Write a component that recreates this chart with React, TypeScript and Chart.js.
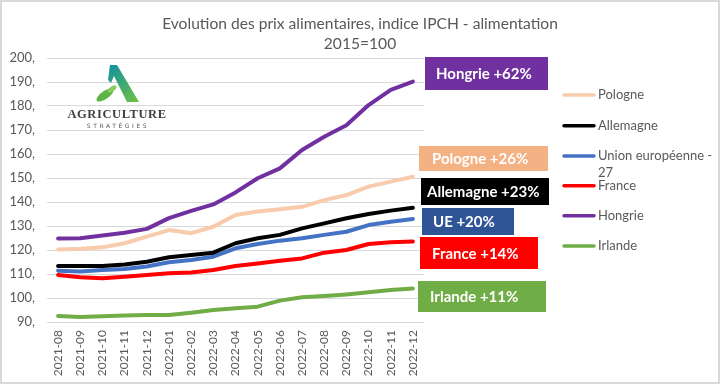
import React, { useEffect, useRef } from 'react';
import Chart from 'chart.js/auto';

const months = ['2021-08','2021-09','2021-10','2021-11','2021-12','2022-01','2022-02','2022-03','2022-04','2022-05','2022-06','2022-07','2022-08','2022-09','2022-10','2022-11','2022-12'];
const pologne = [120.2,120.5,121.1,122.8,125.6,128.3,127.0,129.7,134.6,136.0,137.0,138.0,140.8,142.9,146.4,148.5,150.5];
const allemagne = [113.3,113.3,113.3,114.0,115.1,117.0,117.9,118.9,122.8,124.9,126.3,129.0,131.1,133.2,135.0,136.4,137.6];
const ue = [111.4,111.0,111.7,112.1,113.1,114.9,115.8,117.2,120.7,122.5,123.9,124.9,126.3,127.6,130.4,131.8,132.9];
const france = [109.6,108.6,108.2,108.9,109.6,110.3,110.6,111.7,113.3,114.4,115.5,116.5,118.9,120.0,122.5,123.2,123.5];
const hongrie = [124.8,124.9,126.0,127.2,128.8,133.3,136.3,139.0,144.0,149.9,154.0,161.7,167.2,172.0,180.4,186.7,190.2];
const irlande = [92.5,92.1,92.4,92.7,92.9,92.9,93.9,95.0,95.7,96.4,98.9,100.3,100.8,101.5,102.4,103.3,104.0];

const seriesNames = ['Pologne','Allemagne','Union européenne - 27','France','Hongrie','Irlande'];
const seriesColors = ['#F8CBAD','#000000','#4472C4','#FF0000','#7030A0','#70AD47'];
const seriesData = [pologne, allemagne, ue, france, hongrie, irlande];

const boxLabels = ['Hongrie +62%','Pologne +26%','Allemagne +23%','UE +20%','France +14%','Irlande +11%'];
const boxColors = ['#7030A0','#F4B183','#000000','#2F5597','#FF0000','#70AD47'];

const titleLines = ['Evolution des prix alimentaires, indice IPCH - alimentation','2015=100'];

const FONT = 'Lato, "Open Sans", sans-serif';

const overlay = {
  id: 'overlay',
  beforeDraw(chart: any) {
    const ctx = chart.ctx;
    ctx.save();
    ctx.fillStyle = '#FFFFFF';
    ctx.fillRect(0, 0, chart.width, chart.height);
    ctx.restore();
  },
  afterDraw(chart: any) {
    const ctx = chart.ctx;
    ctx.save();
    // title
    ctx.fillStyle = '#595959';
    ctx.font = `15.6px ${FONT}`;
    ctx.textAlign = 'center';
    ctx.textBaseline = 'alphabetic';
    ctx.fillText(titleLines[0], 360, 29);
    ctx.fillText(titleLines[1], 360, 49);

    // logo
    const g = ctx.createLinearGradient(110, 65, 135, 102);
    g.addColorStop(0, '#12929E');
    g.addColorStop(1, '#6CBF47');
    ctx.fillStyle = g;
    ctx.beginPath();
    ctx.moveTo(110, 65);
    ctx.lineTo(117, 65);
    ctx.lineTo(139, 102);
    ctx.lineTo(127, 102);
    ctx.lineTo(114, 76);
    ctx.lineTo(111, 83);
    ctx.lineTo(108, 80);
    ctx.closePath();
    ctx.fill();
    ctx.fillStyle = '#5DB548';
    ctx.beginPath();
    ctx.ellipse(105, 95, 10, 4, -0.6, 0, Math.PI * 2);
    ctx.fill();
    ctx.fillStyle = '#8CCB5E';
    ctx.beginPath();
    ctx.ellipse(112, 89, 5, 2.5, -0.6, 0, Math.PI * 2);
    ctx.fill();
    ctx.fillStyle = '#3F3F3F';
    ctx.font = 'bold 12.5px "Liberation Serif", serif';
    ctx.textAlign = 'center';
    ctx.textBaseline = 'middle';
    (ctx as any).letterSpacing = '0.6px';
    ctx.fillText('AGRICULTURE', 117, 115);
    ctx.font = '6px "DejaVu Sans", sans-serif';
    (ctx as any).letterSpacing = '2.6px';
    ctx.fillStyle = '#555555';
    ctx.fillText('STRATÉGIES', 118, 126);
    (ctx as any).letterSpacing = '0px';

    // annotation boxes
    const boxes = [
      [425, 57, 123, 33, 436],
      [419, 146, 129, 25, 432],
      [421, 178, 128, 27, 427],
      [422, 208, 92, 27, 433],
      [420, 237, 118, 32, 432],
      [418, 281, 128, 31, 430],
    ];
    ctx.textAlign = 'left';
    ctx.textBaseline = 'middle';
    ctx.font = `bold 15px ${FONT}`;
    boxes.forEach((b, i) => {
      ctx.fillStyle = boxColors[i];
      ctx.fillRect(b[0], b[1], b[2], b[3]);
      ctx.fillStyle = '#FFFFFF';
      ctx.fillText(boxLabels[i], b[4], b[1] + b[3] / 2 + 1);
    });

    // legend
    const legendY = [95, 125.7, 156, 185.7, 215.7, 246];
    ctx.font = `13px ${FONT}`;
    seriesNames.forEach((name, i) => {
      ctx.strokeStyle = seriesColors[i];
      ctx.lineWidth = 3.5;
      ctx.lineCap = 'round';
      ctx.beginPath();
      ctx.moveTo(564, legendY[i]);
      ctx.lineTo(594, legendY[i]);
      ctx.stroke();
      ctx.fillStyle = '#595959';
      if (name === 'Union européenne - 27') {
        ctx.fillText('Union européenne -', 598, legendY[i]);
        ctx.fillText('27', 598, legendY[i] + 17);
      } else {
        ctx.fillText(name, 598, legendY[i]);
      }
    });

    // frame
    ctx.strokeStyle = '#D9D9D9';
    ctx.lineWidth = 2;
    ctx.strokeRect(1, 1, chart.width - 2, chart.height - 2);
    ctx.restore();
  },
};

export default function App() {
  const ref = useRef<HTMLCanvasElement | null>(null);
  useEffect(() => {
    document.body.style.margin = '0';
    if (!ref.current) return;
    const chart = new Chart(ref.current, {
      type: 'line',
      data: {
        labels: months,
        datasets: seriesData.map((d, i) => ({
          label: seriesNames[i],
          data: d,
          borderColor: seriesColors[i],
          backgroundColor: seriesColors[i],
          borderWidth: 4,
          pointRadius: 0,
          tension: 0,
          borderJoinStyle: 'round' as const,
          borderCapStyle: 'round' as const,
          fill: false,
        })),
      },
      options: {
        animation: false,
        responsive: false,
        devicePixelRatio: 1,
        layout: { padding: { left: 0, right: 296, top: 58, bottom: 0 } },
        plugins: {
          legend: { display: false },
          title: { display: false },
          tooltip: { enabled: false },
        },
        scales: {
          x: {
            type: 'category',
            offset: true,
            grid: { display: false, drawTicks: false },
            border: { display: false },
            ticks: {
              autoSkip: false,
              minRotation: 90,
              maxRotation: 90,
              padding: 8,
              color: '#595959',
              font: { family: FONT, size: 12 },
            },
            afterFit: (s: any) => { s.height = 62; },
          },
          y: {
            min: 90,
            max: 200,
            grid: { color: '#D9D9D9', lineWidth: 1, drawTicks: false },
            border: { display: false },
            ticks: {
              stepSize: 10,
              padding: 12,
              color: '#595959',
              font: { family: FONT, size: 13 },
              callback: (v: any) => `${v},`,
            },
            afterFit: (s: any) => { s.width = 47; },
          },
        },
      },
      plugins: [overlay],
    });
    return () => chart.destroy();
  }, []);
  return <canvas ref={ref} width={720} height={384} style={{ display: 'block' }} />;
}
